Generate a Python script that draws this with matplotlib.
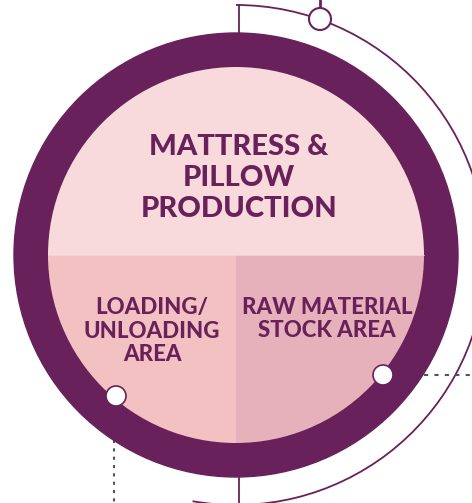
import matplotlib
matplotlib.use("Agg")
import matplotlib.pyplot as plt
from matplotlib.patches import Circle, Wedge, Arc

# labels and colours of the three areas
labels = ["MATTRESS &\nPILLOW\nPRODUCTION", "LOADING/\nUNLOADING\nAREA", "RAW MATERIAL\nSTOCK AREA"]
fills = ["#f8d9dc", "#f4c1c3", "#e6b1ba"]
angles = [(0, 180), (180, 270), (270, 360)]

purple = "#68215a"
W, H = 472, 503
cx, cy = 236, H - 255
r_out, r_in, r_arc = 222, 188, 250

fig = plt.figure(figsize=(W / 100, H / 100), dpi=100)
ax = fig.add_axes([0, 0, 1, 1])
ax.set_xlim(0, W)
ax.set_ylim(0, H)
ax.set_aspect("equal")
ax.axis("off")

# outer thin arc and connectors
ax.add_patch(Arc((cx, cy), 2 * r_arc, 2 * r_arc, theta1=-100, theta2=90, color=purple, lw=1.3))
ax.plot([239, 239], [H - 5, H - 33], color=purple, lw=1.3)
ax.plot([239, 239], [H - 477, 0], color=purple, lw=1.3)
ax.plot([320, 320], [H, H - 6], color=purple, lw=2)
ax.plot([114, 114], [H - 440, 0], color="#555555", lw=1.5, ls=(0, (1.5, 2.5)))
ax.plot([424, W], [H - 375, H - 375], color="#555555", lw=1.5, ls=(0, (2, 3)))

# ring
ax.add_patch(Circle((cx, cy), r_out, color=purple, zorder=2))

# quadrants
for (t1, t2), c in zip(angles, fills):
    ax.add_patch(Wedge((cx, cy), r_in, t1, t2, color=c, lw=0, zorder=3))
ax.plot([cx - r_in, cx + r_in], [cy, cy], color=fills[0], lw=0.5, zorder=3)

# small markers
ax.add_patch(Circle((320, H - 19), 11, fc="white", ec=purple, lw=1.5, zorder=4))
ax.add_patch(Circle((116, H - 396), 10, fc="white", ec=purple, lw=1.2, zorder=4))
ax.add_patch(Circle((383, H - 375), 10, fc="white", ec=purple, lw=1.2, zorder=4))

font = ["Lato", "DejaVu Sans"]
ax.text(239, H - 178, labels[0], ha="center", va="center", fontsize=21, fontweight="black",
        color=purple, family=font, linespacing=1.22, zorder=5)
ax.text(152, H - 331, labels[1], ha="center", va="center", fontsize=16, fontweight="black",
        color=purple, family=font, linespacing=1.15, zorder=5)
ax.text(327, H - 319, labels[2], ha="center", va="center", fontsize=16, fontweight="black",
        color=purple, family=font, linespacing=1.15, zorder=5)

fig.savefig("out.png", dpi=100)
